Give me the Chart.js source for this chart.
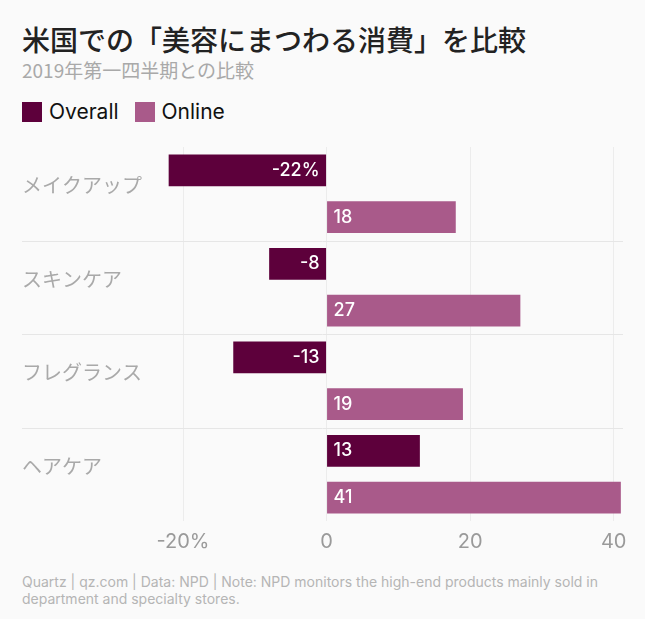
<!DOCTYPE html>
<html><head><meta charset="utf-8">
<script src="https://cdn.jsdelivr.net/npm/chart.js@4"></script>
<style>
body{margin:0;background:#fafafa;font-family:"Noto Sans CJK JP","Noto Sans",sans-serif;}
#wrap{position:relative;width:645px;height:619px;overflow:hidden}
#t{position:absolute;left:22px;top:19px;font-size:28px;color:#222;font-weight:500}
#s{position:absolute;left:22px;top:56px;font-size:19px;color:#a9a9a9;}
#lg{position:absolute;left:22px;top:99px;font-size:21px;color:#111;font-family:Inter,sans-serif;display:flex;gap:16px}
#lg span{display:flex;align-items:center;gap:7px}
#lg i{display:inline-block;width:20px;height:20px}
#c{position:absolute;left:0;top:135px;width:645px;height:428px}
#f{position:absolute;left:22px;top:573px;width:610px;font-size:14px;line-height:17px;color:#b5b5b5;font-family:Inter,sans-serif}
</style></head><body><div id="wrap">
<div id="t">米国での「美容にまつわる消費」を比較</div>
<div id="s">2019年第一四半期との比較</div>
<div id="lg"><span><i style="background:#5d003b"></i>Overall</span><span><i style="background:#a95a8a"></i>Online</span></div>
<div id="c"><canvas id="cv"></canvas></div>
<div id="f">Quartz | qz.com | Data: NPD | Note: NPD monitors the high-end products mainly sold in department and specialty stores.</div>
</div>
<script>
const categories=["メイクアップ","スキンケア","フレグランス","ヘアケア"];
const overall=[-22,-8,-13,13];
const online=[18,27,19,41];
const overallLabels=["-22%","-8","-13","13"];
const onlineLabels=["18","27","19","41"];
const xTicks={"-20":"-20%","0":"0","20":"20","40":"40"};
const labelPlugin={id:'lbl',afterDatasetsDraw(ch){
 const ctx=ch.ctx;ctx.save();ctx.font='500 18px Inter, sans-serif';ctx.fillStyle='#fff';ctx.textBaseline='middle';
 const x0=ch.scales.x.getPixelForValue(0);
 ch.data.datasets.forEach((ds,di)=>{const labs=di?onlineLabels:overallLabels;
  ch.getDatasetMeta(di).data.forEach((b,i)=>{const v=ds.data[i];
   if(v<0){ctx.textAlign='right';ctx.fillText(labs[i],x0-7,b.y);}else{ctx.textAlign='left';ctx.fillText(labs[i],x0+7,b.y);}
  });});
 ctx.restore();}};
const sepPlugin={id:'sep',beforeDatasetsDraw(ch){
 const ctx=ch.ctx,y=ch.scales.y;ctx.save();ctx.strokeStyle='#e6e6e6';ctx.lineWidth=1;
 for(let i=1;i<categories.length;i++){const p=(y.getPixelForValue(i-1)+y.getPixelForValue(i))/2;
  ctx.beginPath();ctx.moveTo(22,Math.round(p)+0.5);ctx.lineTo(623,Math.round(p)+0.5);ctx.stroke();}
 ctx.restore();}};
new Chart(document.getElementById('cv'),{type:'bar',
 data:{labels:categories,datasets:[
  {label:'Overall',data:overall,backgroundColor:'#5d003b',barPercentage:0.68,categoryPercentage:1},
  {label:'Online',data:online,backgroundColor:'#a95a8a',barPercentage:0.68,categoryPercentage:1}]},
 options:{indexAxis:'y',responsive:true,maintainAspectRatio:false,animation:false,
  layout:{padding:{left:22,right:22,top:0,bottom:0}},
  plugins:{legend:{display:false},tooltip:{enabled:false}},
  scales:{
   x:{min:-24.6,max:41.3,afterBuildTicks(s){s.ticks=[-20,0,20,40].map(v=>({value:v}));},
      grid:{color:'#ececec',drawTicks:false},border:{display:false},
      ticks:{padding:9,color:'#9a9a9a',font:{size:20,family:'Inter, sans-serif'},callback:v=>xTicks[String(v)]}},
   y:{grid:{display:false},border:{display:false},afterFit(s){s.width=128;},
      ticks:{color:'#a9a9a9',font:{size:20,family:'"Noto Sans CJK JP"'},crossAlign:'far',padding:0,labelOffset:-8,
       callback:(v,i)=>categories[i]}}}},
 plugins:[labelPlugin,sepPlugin]});
</script></body></html>
